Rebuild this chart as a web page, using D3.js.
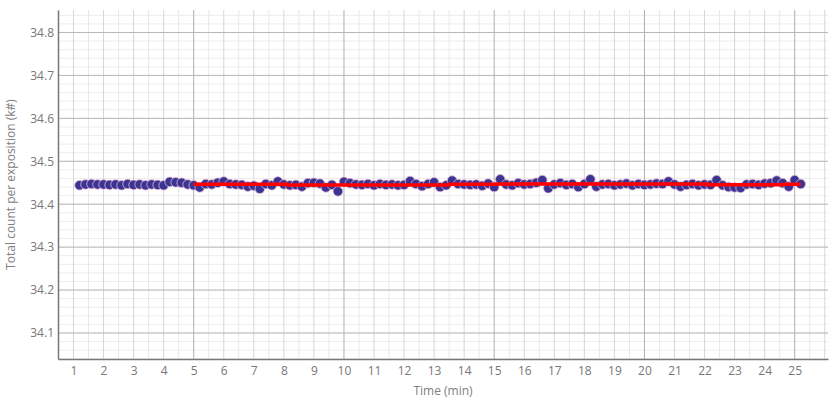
<!DOCTYPE html>
<html>
<head>
<meta charset="utf-8">
<script src="https://cdn.jsdelivr.net/npm/d3@7"></script>
<style>
  body { margin: 0; background: #fff; }
  text { font-family: "Open Sans", sans-serif; }
</style>
</head>
<body>
<div id="chart"></div>
<script>
var width = 840, height = 400;

// sample times (min) and counts (k#)
var times = [1.2,1.4,1.6,1.8,2.0,2.2,2.4,2.6,2.8,3.0,3.2,3.4,3.6,3.8,4.0,4.2,4.4,4.6,4.8,5.0,
  5.2,5.4,5.6,5.8,6.0,6.2,6.4,6.6,6.8,7.0,7.2,7.4,7.6,7.8,8.0,8.2,8.4,8.6,8.8,9.0,
  9.2,9.4,9.6,9.8,10.0,10.2,10.4,10.6,10.8,11.0,11.2,11.4,11.6,11.8,12.0,12.2,12.4,12.6,12.8,13.0,
  13.2,13.4,13.6,13.8,14.0,14.2,14.4,14.6,14.8,15.0,15.2,15.4,15.6,15.8,16.0,16.2,16.4,16.6,16.8,17.0,
  17.2,17.4,17.6,17.8,18.0,18.2,18.4,18.6,18.8,19.0,19.2,19.4,19.6,19.8,20.0,20.2,20.4,20.6,20.8,21.0,
  21.2,21.4,21.6,21.8,22.0,22.2,22.4,22.6,22.8,23.0,23.2,23.4,23.6,23.8,24.0,24.2,24.4,24.6,24.8,25.0,25.2];

var counts = [34.444,34.446,34.447,34.446,34.446,34.445,34.446,34.444,34.447,34.445,
  34.446,34.444,34.446,34.445,34.444,34.452,34.451,34.450,34.446,34.444,
  34.439,34.447,34.446,34.450,34.453,34.447,34.446,34.445,34.441,34.443,
  34.436,34.447,34.444,34.453,34.446,34.444,34.445,34.441,34.449,34.450,
  34.448,34.439,34.445,34.430,34.452,34.449,34.446,34.445,34.447,34.444,
  34.447,34.445,34.446,34.444,34.445,34.454,34.447,34.442,34.447,34.451,
  34.440,34.444,34.455,34.447,34.446,34.445,34.446,34.443,34.448,34.440,
  34.458,34.446,34.444,34.449,34.446,34.447,34.450,34.456,34.437,34.446,
  34.449,34.445,34.447,34.440,34.447,34.458,34.441,34.446,34.447,34.444,
  34.446,34.448,34.444,34.447,34.445,34.446,34.448,34.447,34.453,34.446,
  34.441,34.445,34.447,34.444,34.446,34.445,34.456,34.444,34.440,34.439,
  34.438,34.446,34.447,34.445,34.448,34.449,34.455,34.449,34.441,34.456,34.447];

// moving mean (red)
var meanTimes = [5.0, 8.1, 13.5, 15.1, 22.1, 24.6, 25.2];
var meanCounts = [34.4466, 34.4450, 34.4462, 34.4468, 34.4452, 34.4466, 34.4466];

var xTicks = [1,2,3,4,5,6,7,8,9,10,11,12,13,14,15,16,17,18,19,20,21,22,23,24,25];
var yTicks = [34.1,34.2,34.3,34.4,34.5,34.6,34.7,34.8];

// plot box (don't call these top/left, window.top is read-only)
var pL = 58, pR = 828, pT = 10, pB = 359;

var x = d3.scaleLinear().domain([0.484, 26.108]).range([pL, pR]);
var y = d3.scaleLinear().domain([34.0394, 34.8524]).range([pB, pT]);

var svg = d3.select('#chart').append('svg')
  .attr('width', width)
  .attr('height', height);

// grid: minor first, then majors on top
var grid = svg.append('g');
var halfX = [], minorY = [];
for (var t = 0.5; t <= 26; t += 0.5) { if (t % 1 != 0) halfX.push(t); }
for (var v = 34.04; v <= 34.85; v += 0.02) { minorY.push(+v.toFixed(2)); }

grid.selectAll('.hy').data(minorY).enter().append('line')
  .attr('x1', pL).attr('x2', pR)
  .attr('y1', function(d){ return y(d); }).attr('y2', function(d){ return y(d); })
  .attr('stroke', '#ededed');
grid.selectAll('.hx').data(halfX).enter().append('line')
  .attr('x1', function(d){ return x(d); }).attr('x2', function(d){ return x(d); })
  .attr('y1', pT).attr('y2', pB)
  .attr('stroke', '#e8e8e8');
grid.selectAll('.ix').data(d3.range(1, 27)).enter().append('line')
  .attr('x1', function(d){ return x(d); }).attr('x2', function(d){ return x(d); })
  .attr('y1', pT).attr('y2', pB)
  .attr('stroke', function(d){ return d % 5 == 0 ? '#b0b0b0' : '#d6d6d6'; });
grid.selectAll('.my').data(yTicks).enter().append('line')
  .attr('x1', pL).attr('x2', pR)
  .attr('y1', function(d){ return y(d); }).attr('y2', function(d){ return y(d); })
  .attr('stroke', '#b8b8b8');

// axes
var xAxis = svg.append('g')
  .attr('transform', 'translate(0,' + pB + ')')
  .call(d3.axisBottom(x).tickValues(xTicks).tickSize(0).tickPadding(7).tickFormat(d3.format('d')));
var yAxis = svg.append('g')
  .attr('transform', 'translate(' + pL + ',0)')
  .call(d3.axisLeft(y).tickValues(yTicks).tickSize(0).tickPadding(4).tickFormat(d3.format('.1f')));

[xAxis, yAxis].forEach(function(a) {
  a.select('.domain').attr('stroke', '#777').attr('stroke-width', 1.5);
  a.selectAll('text').attr('fill', '#777').style('font-size', '12px').style('font-family', '"Open Sans", sans-serif');
});

// dots
svg.append('g').selectAll('circle')
  .data(times)
  .enter()
  .append('circle')
  .attr('cx', function(d){ return x(d); })
  .attr('cy', function(d, i){ return y(counts[i]); })
  .attr('r', 4.8)
  .attr('fill', '#3a3592')
  .attr('stroke', '#e9b7d6')
  .attr('stroke-width', 0.8);

// mean line
var meanLine = d3.line()
  .x(function(d){ return x(d); })
  .y(function(d, i){ return y(meanCounts[i]); })
  .curve(d3.curveStepAfter);

svg.append('path')
  .attr('d', meanLine(meanTimes))
  .attr('fill', 'none')
  .attr('stroke', '#ff0000')
  .attr('stroke-width', 3.5);

// axis titles
svg.append('text')
  .attr('x', (pL + pR) / 2)
  .attr('y', 395)
  .attr('text-anchor', 'middle')
  .attr('fill', '#808080')
  .style('font-size', '12px')
  .text('Time (min)');

svg.append('text')
  .attr('transform', 'translate(15,' + ((pT + pB) / 2) + ') rotate(-90)')
  .attr('text-anchor', 'middle')
  .attr('fill', '#808080')
  .style('font-size', '12px')
  .text('Total count per exposition (k#)');
</script>
</body>
</html>
